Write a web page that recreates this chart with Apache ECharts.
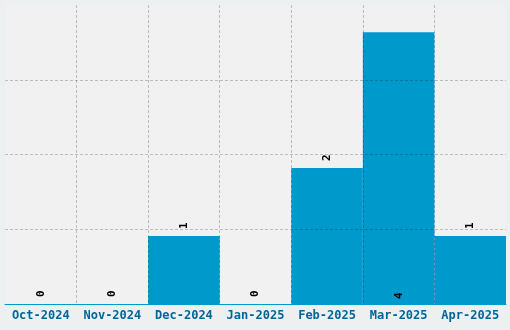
<!DOCTYPE html>
<html><head><meta charset="utf-8">
<script src="https://cdn.jsdelivr.net/npm/echarts@6/dist/echarts.min.js"></script>
<style>html,body{margin:0;padding:0;background:#ecf0f1;}#c{width:510px;height:330px;}</style>
</head><body><div id="c"></div>
<script>
const categories = ['Oct-2024','Nov-2024','Dec-2024','Jan-2025','Feb-2025','Mar-2025','Apr-2025'];
const values = [0, 0, 1, 0, 2, 4, 1];

const maxVal = Math.max(...values);
const data = values.map(v => v === maxVal ? {value: v, label: {position: 'insideBottom', distance: 5}} : v);

const chart = echarts.init(document.getElementById('c'));
chart.setOption({
  backgroundColor: '#ecf0f1',
  animation: false,
  grid: {left: 5, right: 4, top: 5, bottom: 26, show: true, backgroundColor: '#f1f1f1', borderWidth: 0},
  xAxis: {
    type: 'category', data: categories, boundaryGap: true,
    axisLine: {lineStyle: {color: '#0099cc', width: 1}},
    axisTick: {show: false},
    axisLabel: {color: '#006699', fontFamily: 'DejaVu Sans Mono', fontWeight: 'bold', fontSize: 12, margin: 6, interval: 0},
    splitLine: {show: true, showMinLine: false, showMaxLine: false, lineStyle: {color: 'rgba(0,0,0,0.22)', type: [3, 2]}},
    z: 10
  },
  yAxis: {
    type: 'value', min: 0, max: 4.4, interval: 1.1,
    axisLine: {show: false}, axisTick: {show: false}, axisLabel: {show: false},
    splitLine: {show: true, showMinLine: false, showMaxLine: false, lineStyle: {color: 'rgba(0,0,0,0.22)', type: [3, 2]}},
    z: 10
  },
  series: [{
    type: 'bar', data: data, barCategoryGap: '0%',
    itemStyle: {color: '#0099cc'},
    label: {show: true, position: 'top', rotate: 90, align: 'left', verticalAlign: 'middle', distance: 7,
      color: '#000', fontFamily: 'DejaVu Sans Mono', fontWeight: 'bold', fontSize: 11}
  }]
});
</script></body></html>
